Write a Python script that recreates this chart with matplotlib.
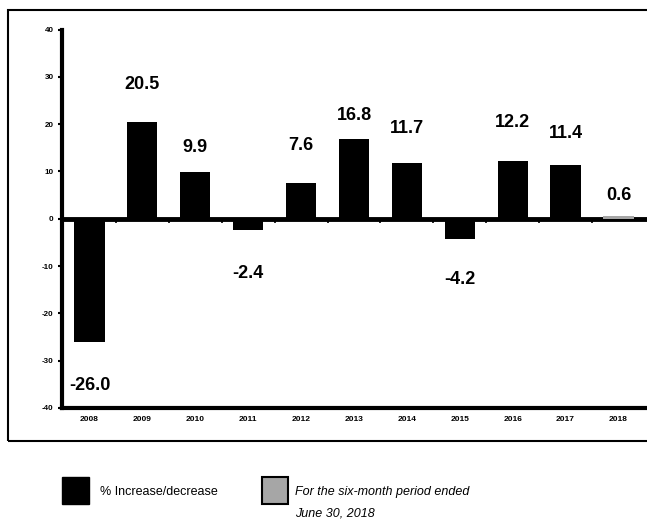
import numpy as np
import matplotlib
matplotlib.use('Agg')
import matplotlib.pyplot as plt
from matplotlib.patches import Rectangle

plt.rcParams['font.family'] = ['Liberation Sans', 'DejaVu Sans']

# ---- data ----
years = ['2008', '2009', '2010', '2011', '2012', '2013', '2014', '2015', '2016', '2017', '2018']
pct_change = [-26.0, 20.5, 9.9, -2.4, 7.6, 16.8, 11.7, -4.2, 12.2, 11.4, 0.6]
half_year = [False] * 10 + [True]   # 2018 is the six-month figure
y_ticks = [-40, -30, -20, -10, 0, 10, 20, 30, 40]

# value label heights (data units), set by hand so they sit where they read best
label_y = [-35.3, 28.3, 15.0, -11.6, 15.4, 21.8, 19.0, -12.9, 20.3, 18.0, 4.9]

BLACK = '#000000'
GREY = '#a6a6a6'

W, H = 647, 523
fig = plt.figure(figsize=(W / 100, H / 100), dpi=100)
ax = fig.add_axes([62 / W, 1 - 408 / H, (W - 62) / W, (408 - 29.5) / H])

x = np.arange(len(years))
colors = [GREY if h else BLACK for h in half_year]
ax.bar(x, pct_change, width=0.57, color=colors, edgecolor='none', zorder=3)

for xi, v, ly in zip(x, pct_change, label_y):
    ax.text(xi, ly, f'{v:.1f}', ha='center', va='center',
            fontsize=13, fontweight='bold', zorder=4)

# zero line with category tick marks between bars
ax.axhline(0, color=BLACK, lw=3.5, zorder=2)
ax.vlines(x[:-1] + 0.5, -0.9, 0, color=BLACK, lw=1.2, zorder=2)

ax.set_xlim(-0.52, 10.54)
ax.set_ylim(-40, 40)
ax.set_xticks(x)
ax.set_xticklabels(years, fontsize=6, fontweight='bold')
ax.tick_params(axis='x', length=0, pad=6)
ax.set_yticks(y_ticks)
ax.set_yticklabels([str(t) for t in y_ticks], fontsize=5.8, fontweight='bold')
ax.tick_params(axis='y', length=3, width=1.5, pad=3, direction='out')

for side in ['top', 'right']:
    ax.spines[side].set_visible(False)
for side in ['left', 'bottom']:
    ax.spines[side].set_linewidth(3)

# outer box around the chart (open on the right)
fig.patches.append(Rectangle((8 / W, 1 - 441 / H), 1.0, (441 - 10) / H,
                             transform=fig.transFigure, fill=False,
                             lw=1.5, edgecolor=BLACK, zorder=0))

# legend
fig.patches.append(Rectangle((62 / W, 1 - 504 / H), 27 / W, 27 / H,
                             transform=fig.transFigure, facecolor=BLACK,
                             edgecolor=BLACK, lw=1))
fig.text(100 / W, 1 - 492 / H, '% Increase/decrease', ha='left', va='center',
         fontsize=9)
fig.patches.append(Rectangle((262 / W, 1 - 504 / H), 26 / W, 27 / H,
                             transform=fig.transFigure, facecolor=GREY,
                             edgecolor=BLACK, lw=1.5))
fig.text(295 / W, 1 - 492 / H, 'For the six-month period ended', ha='left',
         va='center', fontsize=9, style='italic')
fig.text(295 / W, 1 - 514 / H, 'June 30, 2018', ha='left',
         va='center', fontsize=9, style='italic')

fig.savefig('out.png', dpi=100)
